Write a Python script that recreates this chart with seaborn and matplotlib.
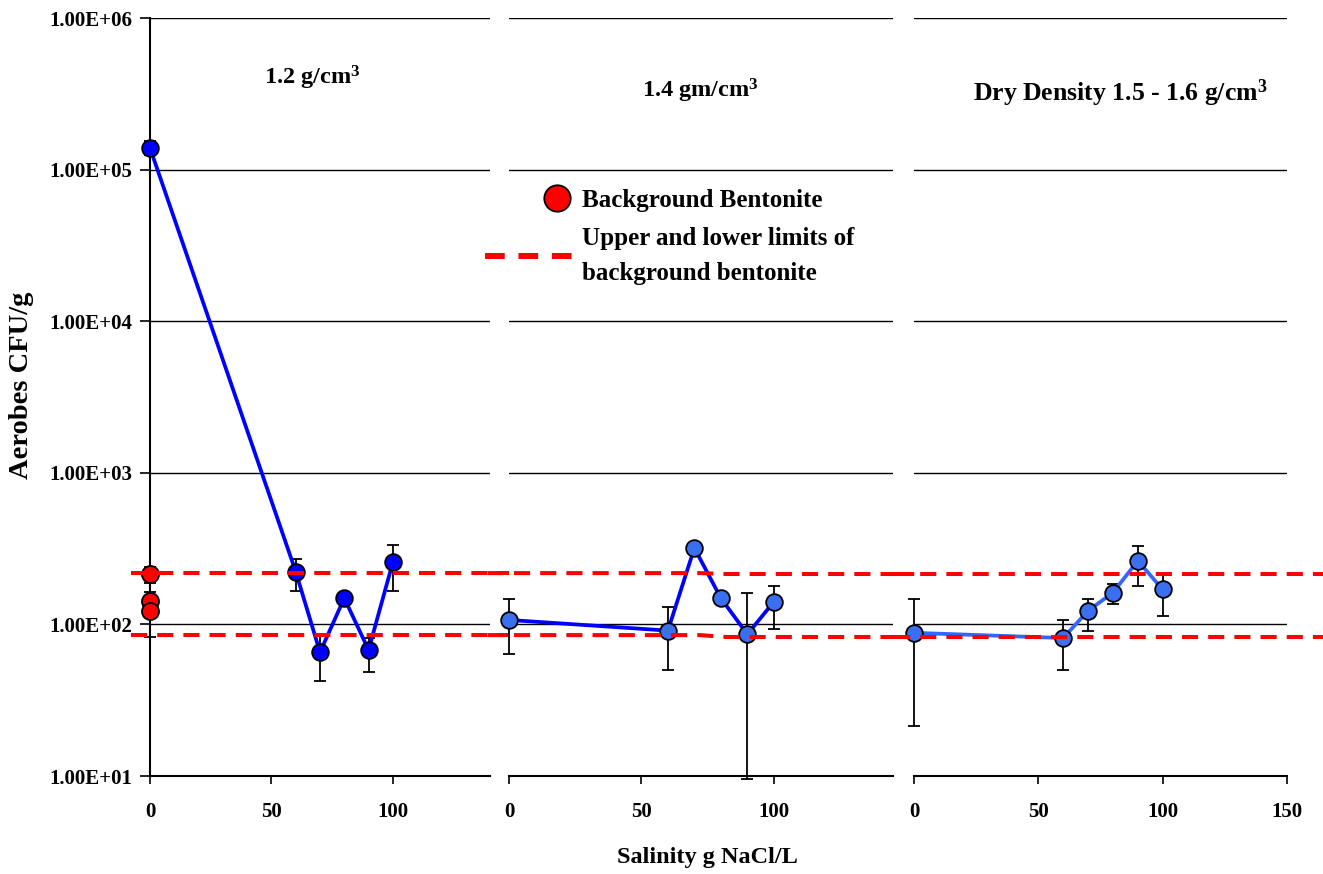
import numpy as np
import pandas as pd
import matplotlib
matplotlib.use("Agg")
import matplotlib.pyplot as plt
from matplotlib.ticker import FixedLocator, FuncFormatter, NullLocator
from matplotlib.legend_handler import HandlerLine2D
from matplotlib.lines import Line2D
import seaborn as sns

# ---------------- data ----------------
salinity_12 = [0, 60, 70, 80, 90, 100]
cfu_12 = [139000, 223, 65.5, 149, 67.8, 257]
err_lo_12 = [125000, 167, 42.4, 140, 48.5, 166]
err_hi_12 = [155000, 270, 85, 158, 81, 336]

salinity_14 = [0, 60, 70, 80, 90, 100]
cfu_14 = [107, 91, 319, 149, 86, 141]
err_lo_14 = [63.8, 50, 300, 140, 9.6, 93.7]
err_hi_14 = [148, 130, 340, 158, 162, 179]

salinity_15 = [0, 60, 70, 80, 90, 100]
cfu_15 = [88, 81.3, 123, 162, 263, 170]
err_lo_15 = [21.5, 50, 91, 137, 180, 113.6]
err_hi_15 = [148, 107, 147, 185, 329, 217]

bg_x = [0, 0, 0]
bg_cfu = [214, 143, 123]
bg_lo = [188, 120, 82]
bg_hi = [240, 164, 140]

lim_x_1 = [-8, 148]
lim_up_1 = [218, 218]
lim_low_1 = [85, 85]
lim_x_2 = [-8, 72, 82, 153]
lim_up_2 = [218, 218, 215, 215]
lim_low_2 = [85, 85, 82.6, 82.6]
lim_x_3 = [-8, 165]
lim_up_3 = [215, 215]
lim_low_3 = [83, 83]

panel_titles = [r"1.2 g/cm$^{3}$", r"1.4 gm/cm$^{3}$", r"Dry Density 1.5 - 1.6 g/cm$^{3}$"]
y_ticks = [1e1, 1e2, 1e3, 1e4, 1e5, 1e6]

# ---------------- style ----------------
sns.set_theme(style="white")
plt.rcParams["font.family"] = ["Liberation Serif", "DejaVu Serif"]
plt.rcParams["font.weight"] = "bold"
plt.rcParams["mathtext.fontset"] = "custom"
plt.rcParams["mathtext.rm"] = "Liberation Serif:bold"
plt.rcParams["mathtext.it"] = "Liberation Serif:bold"
plt.rcParams["mathtext.bf"] = "Liberation Serif:bold"
for k in ["text.color", "axes.labelcolor", "xtick.color", "ytick.color"]:
    plt.rcParams[k] = "black"

W, H = 1323, 874
fig = plt.figure(figsize=(W / 100, H / 100), dpi=100)

def px_axes(l, r, t, b):
    return fig.add_axes([l / W, (H - b) / H, (r - l) / W, (b - t) / H])

ax1 = px_axes(150, 490, 18, 776)
ax2 = px_axes(509, 893, 18, 776)
ax3 = px_axes(914, 1287, 18, 776)
axes = [ax1, ax2, ax3]
xlims = [(0, 140), (0, 145), (0, 150)]
xticks = [[0, 50, 100], [0, 50, 100], [0, 50, 100, 150]]

BLUE = "#0000FF"
LBLUE = "#3A6FF2"
RED = "#FF0000"
dash = (0, (4, 2.5))

for ax, xl, xt in zip(axes, xlims, xticks):
    ax.set_yscale("log")
    ax.set_ylim(10, 1e6)
    ax.set_xlim(*xl)
    ax.set_facecolor("none")
    ax.yaxis.set_major_locator(FixedLocator(y_ticks))
    ax.yaxis.set_minor_locator(NullLocator())
    ax.xaxis.set_major_locator(FixedLocator(xt))
    ax.grid(True, axis="y", color="black", lw=1.0)
    ax.grid(False, axis="x")
    for s in ["top", "right"]:
        ax.spines[s].set_visible(False)
    ax.spines["bottom"].set_color("black")
    ax.spines["bottom"].set_linewidth(1.5)
    ax.tick_params(axis="x", direction="out", length=6, width=1.2, color="black",
                   labelsize=15, pad=13, bottom=True)
    for lab in ax.get_xticklabels():
        lab.set_fontweight("bold")
    ax.set_axisbelow(True)

ax1.spines["left"].set_color("black")
ax1.spines["left"].set_linewidth(1.5)
ax1.tick_params(axis="y", direction="out", length=7, width=1.2, color="black",
                labelsize=15, pad=6, left=True)
ax1.yaxis.set_major_formatter(FuncFormatter(lambda v, p: f"{v:.2E}"))
for ax in (ax2, ax3):
    ax.spines["left"].set_visible(False)
    ax.tick_params(axis="y", left=False, labelleft=False)

# ---------------- series ----------------
series = [
    (ax1, salinity_12, cfu_12, err_lo_12, err_hi_12, BLUE, BLUE),
    (ax2, salinity_14, cfu_14, err_lo_14, err_hi_14, BLUE, LBLUE),
    (ax3, salinity_15, cfu_15, err_lo_15, err_hi_15, "#3366FF", LBLUE),
]
for ax, x, y, lo, hi, lc, mc in series:
    y = np.array(y); lo = np.array(lo); hi = np.array(hi)
    ax.errorbar(x, y, yerr=[y - lo, hi - y], fmt="none", ecolor="black",
                elinewidth=1.3, capsize=4, capthick=1.3, zorder=3, clip_on=False)
    sns.lineplot(x=x, y=y, ax=ax, color=lc, lw=2.7, marker="o", markersize=12,
                 markerfacecolor=mc, markeredgecolor="black", markeredgewidth=1.3,
                 zorder=4, legend=False, clip_on=False)

# background bentonite
bg_y = np.array(bg_cfu)
ax1.errorbar(bg_x, bg_y, yerr=[bg_y - np.array(bg_lo), np.array(bg_hi) - bg_y],
             fmt="none", ecolor="black", elinewidth=1.3, capsize=4, capthick=1.3,
             zorder=3, clip_on=False)
sns.scatterplot(x=bg_x, y=bg_cfu, ax=ax1, color=RED, s=150, edgecolor="black",
                linewidth=1.3, zorder=5, legend=False, clip_on=False)

# limit lines
for ax, lx, up, low in [(ax1, lim_x_1, lim_up_1, lim_low_1),
                        (ax2, lim_x_2, lim_up_2, lim_low_2),
                        (ax3, lim_x_3, lim_up_3, lim_low_3)]:
    for yy in (up, low):
        sns.lineplot(x=lx, y=yy, ax=ax, color=RED, lw=2.9, linestyle=dash,
                     zorder=6, legend=False, clip_on=False, sort=False,
                     estimator=None)

# panel titles
title_pos = [(0.476, 0.921), (0.497, 0.904), (0.552, 0.901)]
title_size = [17.5, 17.5, 18.5]
for ax, t, (tx, ty), fs in zip(axes, panel_titles, title_pos, title_size):
    ax.text(tx, ty, t, transform=ax.transAxes, ha="center", va="center",
            fontsize=fs, fontweight="bold", color="black")

ax1.set_ylabel("Aerobes CFU/g", fontsize=20.5, fontweight="bold")
ax1.yaxis.set_label_coords((34 - 150) / 340, 0.516)
ax1.set_xlabel("")
fig.text(707 / W, 1 - 858 / H, "Salinity g NaCl/L", ha="center", va="center",
         fontsize=17.5, fontweight="bold")


class RightMarker(HandlerLine2D):
    def get_xdata(self, legend, xdescent, ydescent, width, height, fontsize):
        m = -xdescent + width * 0.82
        xd = np.array([m - 1.0, m + 1.0])
        return xd, np.array([m])


h_bg = Line2D([], [], ls="none", marker="o", markersize=19, markerfacecolor=RED,
              markeredgecolor="black", markeredgewidth=1.3)
h_lim = Line2D([], [], color=RED, lw=4.3, linestyle=(0, (3.3, 2.3)))
leg = fig.legend([h_bg, h_lim],
                 ["Background Bentonite", "Upper and lower limits of\nbackground bentonite"],
                 loc="upper left", bbox_to_anchor=(485 / W, 1 - 189 / H),
                 frameon=False, handlelength=3.5, handletextpad=0.36,
                 borderpad=0, borderaxespad=0,
                 labelspacing=0.62, prop={"size": 18, "weight": "bold"},
                 handler_map={h_bg: RightMarker(numpoints=1)})
for t in leg.get_texts():
    t.set_linespacing(1.63)

fig.savefig("out.png", dpi=100)
